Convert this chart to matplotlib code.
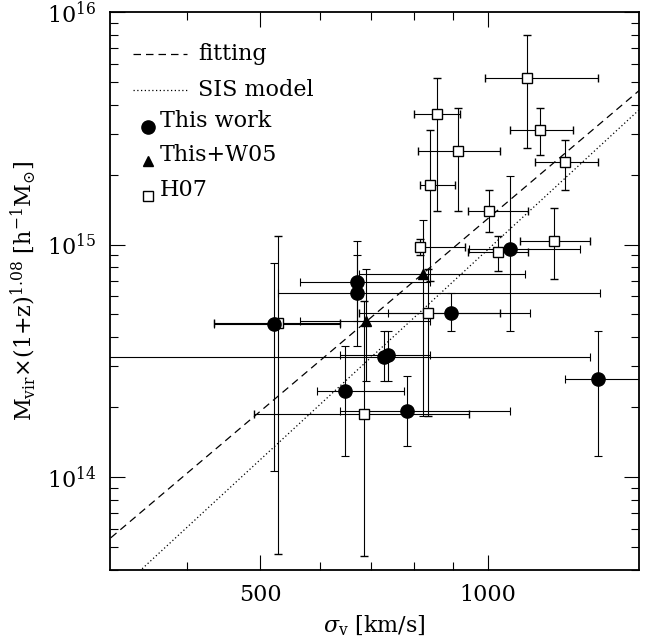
import numpy as np
import matplotlib
matplotlib.use("Agg")
import matplotlib.pyplot as plt
from matplotlib.lines import Line2D

plt.rcParams['font.family'] = ['DejaVu Serif']
plt.rcParams['mathtext.fontset'] = 'dejavuserif'

# ---- This work (filled circles) ----
work_sigma = [522, 672, 672, 728, 737, 648, 783, 893, 1069, 1399]
work_sig_lo = [434, 564, 527, 300, 637, 595, 637, 737, 946, 1265]
work_sig_hi = [637, 838, 1408, 1366, 838, 776, 1069, 1137, 1324, 1600]
work_mass = [4.56e14, 6.93e14, 6.21e14, 3.29e14, 3.36e14, 2.35e14, 1.925e14, 5.09e14, 9.61e14, 2.645e14]
work_m_lo = [1.06e14, 4.70e14, 3.67e14, 2.59e14, 2.59e14, 1.23e14, 1.36e14, 4.26e14, 4.26e14, 1.23e14]
work_m_hi = [8.36e14, 1.04e15, 8.97e14, 4.26e14, 4.26e14, 3.67e14, 2.72e14, 6.21e14, 1.98e15, 4.26e14]

# ---- This+W05 (filled triangles) ----
w05_sigma = [691, 822]
w05_sig_lo = [564, 676]
w05_sig_hi = [838, 1120]
w05_mass = [4.70e14, 7.43e14]
w05_m_lo = [2.59e14, 1.83e14]
w05_m_hi = [7.88e14, 1.27e15]

# ---- H07 (open squares) ----
h07_sigma = [1127, 856, 1172, 913, 1265, 838, 1004, 813, 1031, 1224, 833, 527, 685]
h07_sig_lo = [991, 800, 1069, 808, 1154, 813, 941, 813, 941, 1103, 676, 434, 491]
h07_sig_hi = [1399, 918, 1296, 1038, 1399, 904, 1130, 932, 1130, 1366, 1038, 637, 946]
h07_mass = [5.19e15, 3.63e15, 3.10e15, 2.52e15, 2.26e15, 1.80e15, 1.40e15, 9.8e14, 9.24e14, 1.04e15, 5.09e14, 4.61e14, 1.87e14]
h07_m_lo = [2.59e15, 1.40e15, 2.42e15, 1.40e15, 1.71e15, 7.00e14, 1.13e15, 8.97e14, 7.72e14, 7.13e14, 1.83e14, 4.66e13, 4.57e13]
h07_m_hi = [7.96e15, 5.19e15, 3.86e15, 3.86e15, 2.81e15, 3.10e15, 1.71e15, 1.06e15, 1.09e15, 1.43e15, 7.88e14, 1.09e15, 5.74e14]

# ---- model lines ----
fit_norm, fit_slope = 1.29e15, 2.75
sis_norm, sis_slope = 0.95e15, 3.0

W, H = 654, 639
fig = plt.figure(figsize=(W / 100, H / 100), dpi=100)
ax = fig.add_axes([110 / W, (H - 570) / H, 528.7 / W, 558 / H])
ax.set_xscale('log')
ax.set_yscale('log')
ax.set_xlim(10 ** 2.5, 10 ** 3.2)
ax.set_ylim(10 ** 13.6, 1e16)

s = np.logspace(2.4, 3.3, 200)
ax.plot(s, fit_norm * (s / 1000.0) ** fit_slope, color='black', lw=0.9, ls=(0, (6, 4)))
ax.plot(s, sis_norm * (s / 1000.0) ** sis_slope, color='black', lw=0.9, ls=(0, (1, 2)))

def eb(sig, lo, hi, m, mlo, mhi, **kw):
    sig = np.array(sig, float); m = np.array(m, float)
    xerr = [sig - np.array(lo), np.array(hi) - sig]
    yerr = [m - np.array(mlo), np.array(mhi) - m]
    ax.errorbar(sig, m, xerr=xerr, yerr=yerr, ls='none', ecolor='black',
                elinewidth=0.8, capsize=3, capthick=0.8, **kw)

eb(h07_sigma, h07_sig_lo, h07_sig_hi, h07_mass, h07_m_lo, h07_m_hi,
   marker='s', ms=6.5, mfc='white', mec='black', mew=1.0)
eb(work_sigma, work_sig_lo, work_sig_hi, work_mass, work_m_lo, work_m_hi,
   marker='o', ms=9.5, mfc='black', mec='black')
eb(w05_sigma, w05_sig_lo, w05_sig_hi, w05_mass, w05_m_lo, w05_m_hi,
   marker='^', ms=7, mfc='black', mec='black')

ax.tick_params(which='both', direction='in', top=True, right=True, width=0.8)
ax.tick_params(which='major', length=11, labelsize=16, pad=10)
ax.tick_params(which='minor', length=6)
ax.set_xticks([500, 1000])
ax.set_xticklabels(['500', '1000'])
ax.set_xticks([400, 600, 700, 800, 900], minor=True)
ax.xaxis.set_minor_formatter(matplotlib.ticker.NullFormatter())
for sp in ax.spines.values():
    sp.set_linewidth(1.3)

ax.set_xlabel(r'$\sigma_{\rm v}$ [km/s]', fontsize=16, labelpad=6)
ax.set_ylabel(r'M$_{\rm vir}$$\times$(1+z)$^{1.08}$ [h$^{-1}$M$_{\odot}$]', fontsize=16, labelpad=6)

# ---- legend (manual) ----
def axf(px, py):
    return (px - 110) / 528.7, (570 - py) / 558

tr = ax.transAxes
x0, _ = axf(133, 0); x1, _ = axf(187, 0)
for py, lsty, lab in [(54, (0, (6, 4)), 'fitting'), (90, (0, (1, 2)), 'SIS model')]:
    _, yy = axf(0, py)
    ax.add_line(Line2D([x0, x1], [yy, yy], transform=tr, color='black', lw=0.9, ls=lsty))
    tx, _ = axf(198, 0)
    ax.text(tx, yy, lab, transform=tr, fontsize=16, va='center', ha='left')
for py, mk, ms, fc, lab in [(127, 'o', 9.5, 'black', 'This work'),
                            (161, '^', 7, 'black', 'This+W05'),
                            (196, 's', 6.5, 'white', 'H07')]:
    mx, my = axf(148, py)
    ax.add_line(Line2D([mx], [my], transform=tr, marker=mk, ms=ms, mfc=fc, mec='black',
                       mew=1.0, ls='none'))
    tx, ty = axf(160, py - 6)
    ax.text(tx, ty, lab, transform=tr, fontsize=16, va='center', ha='left')

fig.savefig('out.png', dpi=100)
